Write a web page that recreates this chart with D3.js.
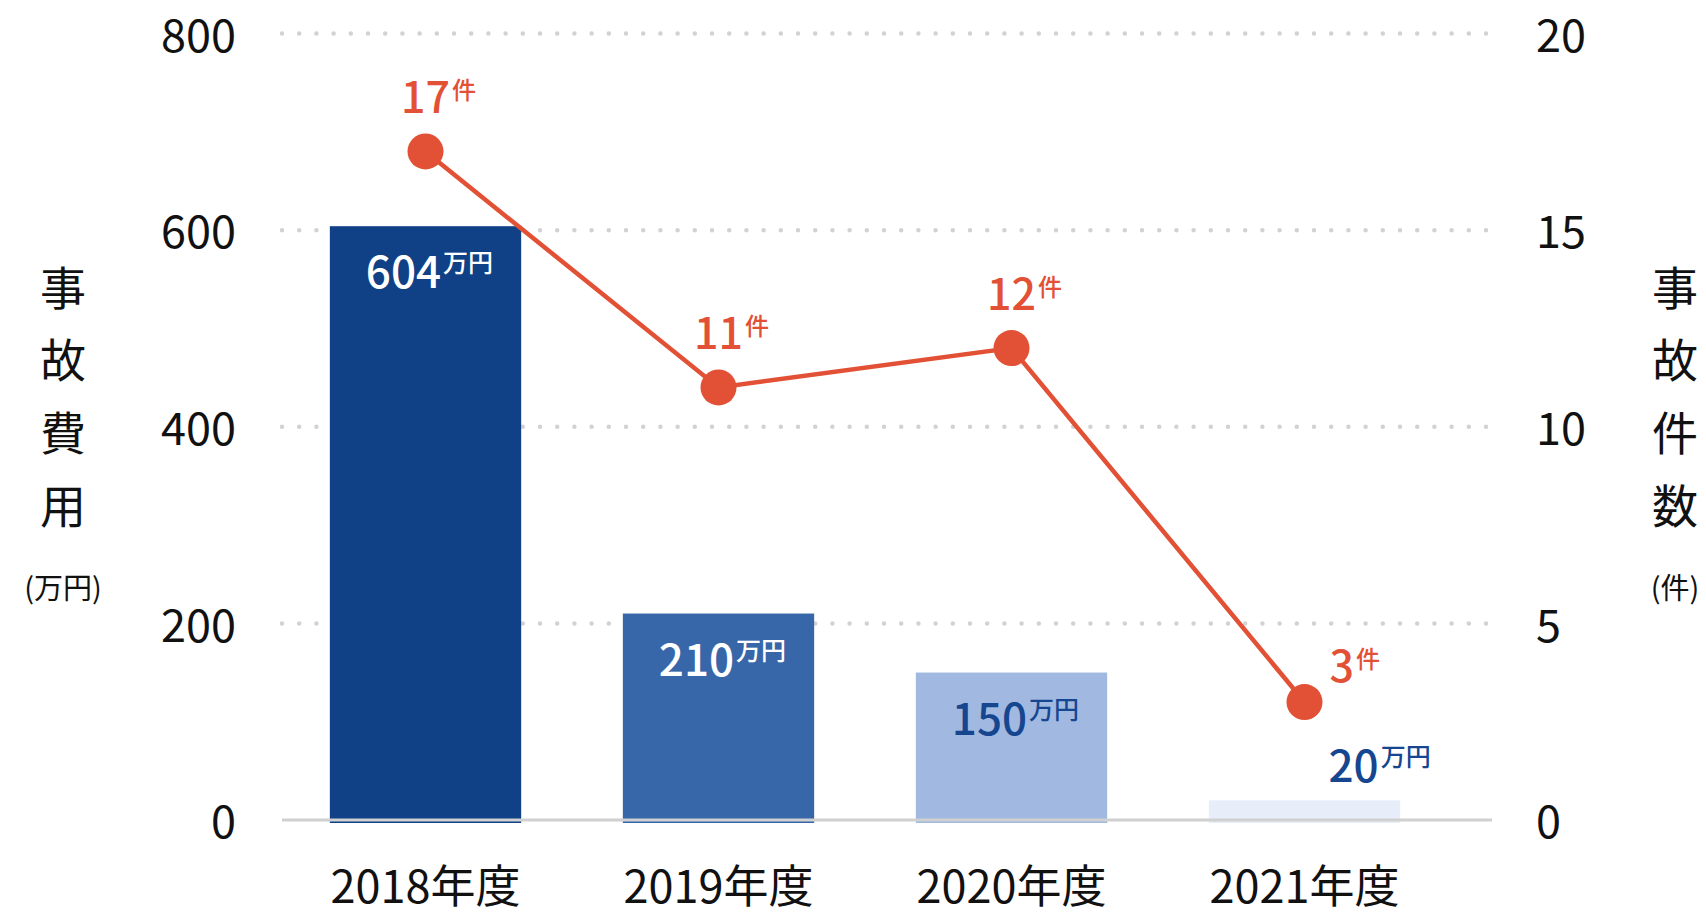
<!DOCTYPE html>
<html>
<head>
<meta charset="utf-8">
<script src="https://cdn.jsdelivr.net/npm/d3@7"></script>
<style>
  html, body { margin: 0; padding: 0; background: #ffffff; }
  svg { display: block; font-family: "Noto Sans CJK JP", "Noto Sans", sans-serif; }
</style>
</head>
<body>
<svg id="chart" width="1706" height="917"></svg>
<script>
// ---- data ----
const categories = ["2018年度", "2019年度", "2020年度", "2021年度"];
const costValues = [604, 210, 150, 20];          // 事故費用 (万円)
const countValues = [17, 11, 12, 3];             // 事故件数 (件)
const leftTicks = [0, 200, 400, 600, 800];
const rightTicks = [0, 5, 10, 15, 20];
const costUnit = "万円";
const countUnit = "件";
const leftTitle = ["事", "故", "費", "用"];
const leftUnit = "(万円)";
const rightTitle = ["事", "故", "件", "数"];
const rightUnit = "(件)";

// ---- styles ----
const barColors = ["#104186", "#3767a9", "#a1b9e0", "#e8eef9"];
const costLabelColors = ["#ffffff", "#ffffff", "#16468f", "#16468f"];
const lineColor = "#e25135";
const gridColor = "#d2d2d2";
const textColor = "#111111";

const svg = d3.select("#chart");

const x = d3.scaleBand().domain(categories).range([279, 1451]).paddingInner(0.347).paddingOuter(0.1735);
const yL = d3.scaleLinear().domain([0, 800]).range([820, 33.5]);
const yR = d3.scaleLinear().domain([0, 20]).range([820, 33.5]);

const gridX0 = 282, gridX1 = 1490;

// gridlines (dotted)
svg.append("g").selectAll("line")
  .data(leftTicks.filter(t => t > 0))
  .join("line")
  .attr("x1", gridX0).attr("x2", gridX1)
  .attr("y1", d => yL(d)).attr("y2", d => yL(d))
  .attr("stroke", gridColor)
  .attr("stroke-width", 4.5)
  .attr("stroke-linecap", "round")
  .attr("stroke-dasharray", "0 17.2");

// bars
const data = categories.map((c, i) => ({ cat: c, cost: costValues[i], count: countValues[i], i }));
svg.append("g").selectAll("rect")
  .data(data)
  .join("rect")
  .attr("x", d => x(d.cat))
  .attr("width", x.bandwidth())
  .attr("y", d => yL(d.cost))
  .attr("height", d => yL(0) - yL(d.cost) + 3)
  .attr("fill", d => barColors[d.i]);

// baseline
svg.append("line")
  .attr("x1", gridX0).attr("x2", gridX1 + 2)
  .attr("y1", yL(0)).attr("y2", yL(0))
  .attr("stroke", "#d0d0d0").attr("stroke-width", 3);

// left tick labels
svg.append("g").selectAll("text")
  .data(leftTicks)
  .join("text")
  .attr("x", 236)
  .attr("y", d => yL(d) + 2)
  .attr("dy", "0.36em")
  .attr("text-anchor", "end")
  .attr("font-size", 45)
  .attr("fill", textColor)
  .text(d => d);

// right tick labels
svg.append("g").selectAll("text")
  .data(rightTicks)
  .join("text")
  .attr("x", 1536)
  .attr("y", d => yR(d) + 2)
  .attr("dy", "0.36em")
  .attr("text-anchor", "start")
  .attr("font-size", 45)
  .attr("fill", textColor)
  .text(d => d);

// x labels
svg.append("g").selectAll("text")
  .data(categories)
  .join("text")
  .attr("x", d => x(d) + x.bandwidth() / 2)
  .attr("y", 903)
  .attr("text-anchor", "middle")
  .attr("font-size", 45)
  .attr("fill", textColor)
  .text(d => d);

// axis titles (vertical)
function verticalTitle(chars, unit, cx) {
  const g = svg.append("g");
  g.selectAll("text.ch")
    .data(chars)
    .join("text")
    .attr("class", "ch")
    .attr("x", cx)
    .attr("y", (d, i) => 288 + i * 72.7)
    .attr("dy", "0.36em")
    .attr("text-anchor", "middle")
    .attr("font-size", 46)
    .attr("fill", textColor)
    .text(d => d);
  g.append("text")
    .attr("x", cx)
    .attr("y", 589)
    .attr("dy", "0.36em")
    .attr("text-anchor", "middle")
    .attr("font-size", 29)
    .attr("fill", textColor)
    .text(unit);
}
verticalTitle(leftTitle, leftUnit, 63);
verticalTitle(rightTitle, rightUnit, 1675);

// line
const line = d3.line()
  .x(d => x(d.cat) + x.bandwidth() / 2)
  .y(d => yR(d.count));
svg.append("path")
  .datum(data)
  .attr("d", line)
  .attr("fill", "none")
  .attr("stroke", lineColor)
  .attr("stroke-width", 4.5);

svg.append("g").selectAll("circle")
  .data(data)
  .join("circle")
  .attr("cx", d => x(d.cat) + x.bandwidth() / 2)
  .attr("cy", d => yR(d.count))
  .attr("r", 18)
  .attr("fill", lineColor);

// helper: number + superscript unit
function valueLabel(g, num, unit, color, numSize, supSize, supRaise) {
  const t = g.append("text").attr("fill", color).attr("font-weight", 500);
  const n = t.append("tspan").attr("font-size", numSize).text(num);
  const s = t.append("tspan").attr("font-size", supSize).attr("dx", 2).attr("dy", -supRaise).text(unit);
  return { t, n, s };
}

// cost labels
data.forEach(d => {
  const g = svg.append("g");
  const lab = valueLabel(g, d.cost, costUnit, costLabelColors[d.i], 44, 25, 16);
  const wN = lab.n.node().getComputedTextLength();
  const wS = lab.s.node().getComputedTextLength();
  const cx = x(d.cat) + x.bandwidth() / 2;
  const barH = yL(0) - yL(d.cost);
  if (barH > 90) {
    lab.t.attr("x", cx - (wN + wS + 2) / 2 + 4).attr("y", yL(d.cost) + 62);
  } else {
    lab.t.attr("x", cx + 24).attr("y", yL(d.cost) - 18);
  }
});

// count labels
data.forEach((d, idx) => {
  const g = svg.append("g");
  const lab = valueLabel(g, d.count, countUnit, lineColor, 43, 24, 14);
  const wN = lab.n.node().getComputedTextLength();
  const cx = x(d.cat) + x.bandwidth() / 2;
  const cy = yR(d.count);
  if (idx === data.length - 1) {
    lab.t.attr("x", cx + 25).attr("y", cy - 20);
  } else {
    lab.t.attr("x", cx - wN / 2).attr("y", cy - 38);
  }
});
</script>
</body>
</html>
